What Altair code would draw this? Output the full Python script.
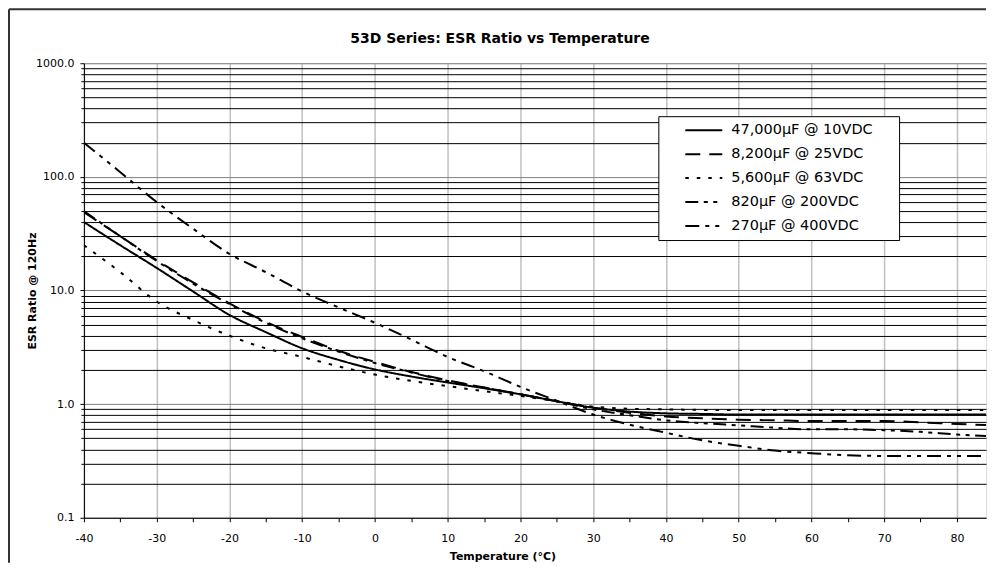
import altair as alt
import pandas as pd

# ---- data ----
temps = [-40, -35, -30, -25, -20, -15, -10, -5, 0, 5, 10, 15, 20, 25,
         30, 35, 40, 45, 50, 55, 60, 65, 70, 75, 80, 85]
series_names = ["47,000µF @ 10VDC", "8,200µF @ 25VDC", "5,600µF @ 63VDC",
                "820µF @ 200VDC", "270µF @ 400VDC"]
s47000 = [40, 25, 15.8, 9.8, 6.1, 4.3, 3.1, 2.45, 2.02, 1.75, 1.55, 1.38, 1.22, 1.06,
          0.93, 0.86, 0.83, 0.82, 0.81, 0.81, 0.81, 0.81, 0.81, 0.81, 0.81, 0.81]
s8200 = [49, 30, 18.5, 11.8, 7.7, 5.3, 3.9, 2.95, 2.35, 1.92, 1.62, 1.4, 1.22, 1.06,
         0.93, 0.84, 0.78, 0.75, 0.73, 0.72, 0.71, 0.71, 0.71, 0.69, 0.67, 0.65]
s5600 = [25, 14.5, 8.0, 5.5, 4.0, 3.1, 2.6, 2.15, 1.82, 1.6, 1.44, 1.3, 1.18, 1.06,
         0.95, 0.91, 0.9, 0.89, 0.89, 0.89, 0.89, 0.89, 0.89, 0.89, 0.89, 0.89]
s820 = [50, 30, 18.2, 11.5, 7.6, 5.2, 3.8, 2.9, 2.3, 1.9, 1.6, 1.4, 1.22, 1.06,
        0.9, 0.8, 0.72, 0.68, 0.65, 0.62, 0.6, 0.6, 0.59, 0.57, 0.54, 0.52]
s270 = [200, 110, 60, 35, 21, 14.5, 9.8, 7.1, 5.2, 3.7, 2.6, 1.95, 1.42, 1.07,
        0.81, 0.66, 0.56, 0.48, 0.43, 0.39, 0.37, 0.355, 0.35, 0.35, 0.35, 0.35]

x_ticks = list(range(-40, 85, 5))
y_ticks = sorted({round(m * d, 6) for d in [0.1, 1, 10, 100] for m in range(1, 10)} | {1000.0})

rows = []
for name, vals in zip(series_names, [s47000, s8200, s5600, s820, s270]):
    for t, v in zip(temps, vals):
        rows.append({"Temperature": t, "ESR": v, "Series": name})
df = pd.DataFrame(rows)

FONT = "DejaVu Sans"
W, H = 903, 455
decade = "abs(log(datum.value)/LN10 - round(log(datum.value)/LN10)) < 0.001"

legend_opts = dict(title="\u00a0", titleOrient="right", titlePadding=24, titleFontSize=1,
                   orient="none", legendX=575, legendY=53,
                   fillColor="white", strokeColor="black",
                   padding=2, symbolType="stroke", symbolSize=1369,
                   symbolOffset=24, labelOffset=8, rowPadding=0, clipHeight=24,
                   symbolStrokeColor="black",
                   labelFont=FONT, labelFontSize=14.5, labelColor="black",
                   labelLimit=400)

lines = alt.Chart(df).mark_line(interpolate="monotone", clip=True, color="black").encode(
    x=alt.X("Temperature:Q",
            scale=alt.Scale(domain=[-40, 84], nice=False, zero=False),
            axis=alt.Axis(values=x_ticks,
                          labelExpr="datum.value % 10 === 0 ? '' + datum.value : ''",
                          title="Temperature (°C)", titleFont=FONT, titleFontSize=11,
                          titleFontWeight="bold", titleColor="black",
                          titleX=419, titleY=39, titleBaseline="middle", titleAnchor="start",
                          titleAlign="center",
                          labelFont=FONT, labelFontSize=11, labelColor="black",
                          labelPadding=11, tickSize=4, tickColor="black",
                          domainColor="black", domainWidth=1,
                          grid=True, gridColor="#c0c0c0", gridWidth=1.5,
                          gridOpacity={"condition": {"test": "datum.value % 10 !== 0", "value": 0}, "value": 1},
                          labelFlush=False, labelOverlap=False)),
    y=alt.Y("ESR:Q",
            scale=alt.Scale(type="log", domain=[0.1, 1000], nice=False),
            axis=alt.Axis(values=y_ticks,
                          labelExpr=f"{decade} ? format(datum.value, '.1f') : ''",
                          title="ESR Ratio @ 120Hz", titleFont=FONT, titleFontSize=11,
                          titleFontWeight="bold", titleColor="black",
                          titleX=-51, titleY=H / 2, titleAngle=-90,
                          titleAlign="center", titleBaseline="middle", titleAnchor="start",
                          labelFont=FONT, labelFontSize=11, labelColor="black",
                          labelPadding=6, tickColor="black",
                          tickSize={"condition": {"test": decade, "value": 4}, "value": 3},
                          domainColor="black", domainWidth=1,
                          grid=True, gridWidth=1,
                          gridColor={"condition": {"test": decade, "value": "#808080"}, "value": "#000000"},
                          labelFlush=False, labelOverlap=False)),
    strokeDash=alt.StrokeDash("Series:N",
                              scale=alt.Scale(domain=series_names,
                                              range=[[1, 0], [15, 9], [3.5, 8],
                                                     [13, 5.5, 4, 5.5, 4, 5.5],
                                                     [14, 6, 4, 6, 4, 6]]),
                              legend=alt.Legend(**legend_opts)),
    strokeWidth=alt.StrokeWidth("Series:N",
                                scale=alt.Scale(domain=series_names, range=[2, 2, 2, 3, 2]),
                                legend=alt.Legend(**legend_opts)),
    order=alt.Order("Temperature:Q"),
)

frame_df = pd.DataFrame({"k": [0]})
frame_left = alt.Chart(frame_df).mark_rule(color="#333333", strokeWidth=2).encode(
    x=alt.value(-75), y=alt.value(-54), y2=alt.value(H + 45))
frame_top = alt.Chart(frame_df).mark_rule(color="#333333", strokeWidth=2).encode(
    x=alt.value(-75), x2=alt.value(W), y=alt.value(-54))

chart = alt.layer(lines, frame_left, frame_top).properties(
    width=W, height=H,
    padding={"left": 0, "top": 0, "right": 0, "bottom": 0},
    title=alt.TitleParams("53D Series: ESR Ratio vs Temperature", font=FONT, fontSize=14,
                          fontWeight="bold", color="black", anchor="middle", frame="group",
                          offset=-38, dx=-35),
).configure_view(stroke=None).configure(background="white")

chart.save("out.html", embed_options={"renderer": "svg", "actions": False})
